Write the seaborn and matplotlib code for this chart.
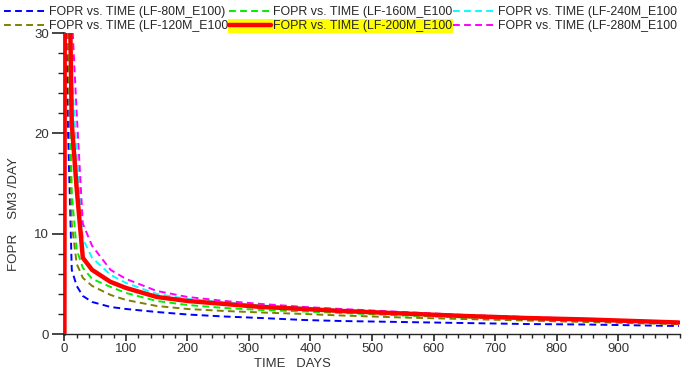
import numpy as np
import pandas as pd
import seaborn as sns
import matplotlib
matplotlib.use("Agg")
import matplotlib.pyplot as plt
from matplotlib.patches import Rectangle
from matplotlib.ticker import MultipleLocator

# time axis (days) shared by all cases
time_days = [0, 1, 6, 12, 20, 30, 45, 75, 100, 150, 200, 260, 320, 390, 450, 550, 650, 750, 850, 950, 999]

fopr_80m = [0, 40, 20, 6.4, 4.8, 3.8, 3.2, 2.7, 2.5, 2.2, 1.95, 1.75, 1.6, 1.4, 1.3, 1.2, 1.1, 1.0, 0.95, 0.85, 0.8]
fopr_120m = [0, 45, 30, 11, 7.0, 5.6, 4.8, 3.9, 3.4, 2.8, 2.5, 2.3, 2.15, 2.0, 1.85, 1.65, 1.5, 1.35, 1.2, 1.05, 1.0]
fopr_160m = [0, 50, 35, 14, 8.4, 6.6, 5.5, 4.7, 4.1, 3.3, 2.9, 2.6, 2.4, 2.25, 2.1, 1.85, 1.65, 1.5, 1.35, 1.2, 1.1]
fopr_200m = [0, 60, 45, 21, 14.5, 7.6, 6.4, 5.2, 4.6, 3.7, 3.3, 3.0, 2.7, 2.5, 2.3, 2.05, 1.8, 1.6, 1.45, 1.25, 1.15]
fopr_240m = [0, 60, 45, 26, 18, 9.5, 7.6, 5.9, 5.1, 4.0, 3.5, 3.15, 2.85, 2.6, 2.4, 2.1, 1.85, 1.65, 1.45, 1.25, 1.15]
fopr_280m = [0, 60, 50, 32, 22, 11, 8.8, 6.4, 5.5, 4.3, 3.7, 3.3, 3.0, 2.7, 2.5, 2.2, 1.9, 1.7, 1.5, 1.3, 1.15]

labels = ["FOPR vs. TIME (LF-80M_E100)", "FOPR vs. TIME (LF-120M_E100",
          "FOPR vs. TIME (LF-160M_E100", "FOPR vs. TIME (LF-200M_E100",
          "FOPR vs. TIME (LF-240M_E100", "FOPR vs. TIME (LF-280M_E100"]
colors = ["#0000ff", "#808000", "#00ee00", "#ff0000", "#00ffff", "#ff00ff"]
series = [fopr_80m, fopr_120m, fopr_160m, fopr_200m, fopr_240m, fopr_280m]

sns.set_style("ticks")
plt.rcParams["font.family"] = ["Liberation Sans", "DejaVu Sans"]

fig = plt.figure(figsize=(6.85, 3.72), dpi=100)
ax = fig.add_axes([0.094, 0.102, 0.899, 0.809])

# draw dashed ones first, red solid on top
order = [0, 1, 2, 4, 5, 3]
for i in order:
    df = pd.DataFrame({"t": time_days, "v": series[i]})
    if i == 3:
        sns.lineplot(data=df, x="t", y="v", ax=ax, color=colors[i], lw=3.2,
                     label=labels[i], sort=False, zorder=5)
    else:
        sns.lineplot(data=df, x="t", y="v", ax=ax, color=colors[i], lw=1.4,
                     dashes=False, label=labels[i], sort=False, zorder=3)
        ax.lines[-1].set_dashes((3.5, 2.2))

ax.set_xlim(0, 1001)
ax.set_ylim(0, 30)
ax.xaxis.set_minor_locator(MultipleLocator(20))
ax.yaxis.set_major_locator(MultipleLocator(10))
ax.yaxis.set_minor_locator(MultipleLocator(2))
ax.set_xticks(np.arange(0, 1000, 100))
ax.tick_params(axis="both", which="major", labelsize=9.5, labelcolor="#333333", width=1.2)
ax.tick_params(axis="y", which="major", length=9, pad=2)
ax.tick_params(axis="y", which="minor", length=4.5, width=1)
ax.tick_params(axis="x", which="major", length=5, pad=1.5)
ax.tick_params(axis="x", which="minor", length=3, width=1)
sns.despine(ax=ax)
ax.spines["left"].set_linewidth(1.8)
ax.spines["bottom"].set_linewidth(1.0)

ax.set_xlabel("TIME   DAYS", fontsize=9.4, color="#333333")
ax.xaxis.set_label_coords(0.37, -0.078)
ax.set_ylabel("FOPR    SM3 /DAY", fontsize=9.6, color="#333333")
ax.yaxis.set_label_coords(-0.072, 0.4)

# legend in the order of the reference layout
handles, labs = ax.get_legend_handles_labels()
hmap = dict(zip(labs, handles))
ax.get_legend().remove()
leg = fig.legend([hmap[l] for l in labels], labels, ncol=3, loc="upper left",
                 bbox_to_anchor=(0.0, 0.995), frameon=False, fontsize=8.9,
                 handlelength=3.4, handletextpad=0.2, columnspacing=0.05,
                 labelspacing=0.15, borderaxespad=0.15, borderpad=0.2)

# yellow highlight behind the 200M entry
fig.canvas.draw()
r = fig.canvas.get_renderer()
tb = leg.get_texts()[3].get_window_extent(r)
hb = leg.legend_handles[3].get_window_extent(r)
x0 = hb.x0 - 1
y0 = tb.y0 - 1
fig.add_artist(Rectangle((x0, y0), tb.x1 - x0 + 1, tb.height + 2, transform=None,
                         facecolor="#ffff00", edgecolor="none", zorder=0.5))
leg.set_zorder(6)

fig.savefig("out.png", dpi=100)
